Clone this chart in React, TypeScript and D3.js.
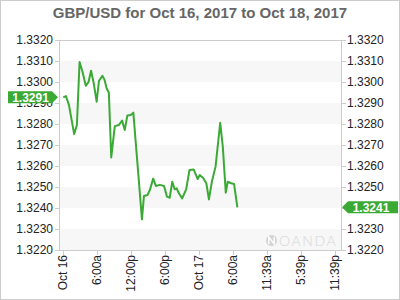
import React from "react";
import * as d3 from "d3";

// hours since Oct 16 00:00
const hours = [0, 0.47, 1.0, 1.92, 2.4, 2.87, 3.39, 3.97, 4.44, 4.9, 5.37, 5.89, 6.29, 6.89, 7.29, 7.64, 8.04, 8.46, 9.09, 9.79, 10.38, 10.84, 11.31, 11.89, 12.36, 13.88, 14.23, 14.86, 15.28, 15.86, 16.33, 17.03, 17.78, 18.3, 18.78, 19.23, 19.65, 20.0, 20.4, 20.98, 21.68, 22.27, 23.02, 23.72, 24.07, 24.65, 25.24, 25.7, 26.22, 26.87, 27.69, 28.15, 28.67, 29.02, 29.62, 30.14, 30.72];
const prices = [1.32927, 1.32933, 1.3289, 1.32752, 1.32795, 1.33095, 1.33049, 1.32982, 1.32999, 1.33054, 1.32994, 1.32906, 1.33005, 1.3303, 1.3301, 1.3297, 1.32949, 1.32641, 1.3279, 1.32795, 1.32816, 1.32771, 1.32841, 1.32843, 1.32854, 1.32346, 1.32457, 1.32462, 1.32486, 1.3254, 1.32505, 1.3251, 1.32505, 1.32454, 1.32449, 1.32525, 1.32489, 1.32494, 1.3247, 1.32446, 1.32489, 1.32581, 1.32583, 1.32538, 1.32557, 1.32544, 1.32518, 1.32441, 1.32525, 1.32597, 1.32806, 1.32692, 1.32473, 1.32525, 1.32518, 1.32514, 1.32403];
const yTicks = [1.322, 1.323, 1.324, 1.325, 1.326, 1.327, 1.328, 1.329, 1.33, 1.331, 1.332];
const xTickHours = [0, 6, 12, 18, 24, 30, 36, 42, 48];
const xTickLabels = ["Oct 16", "6:00a", "12:00p", "6:00p", "Oct 17", "6:00a", "11:39a", "5:39p", "11:39p"];
const openLabel = "1.3291";
const lastLabel = "1.3241";
const title = "GBP/USD for Oct 16, 2017 to Oct 18, 2017";

const GREEN = "#3aaa35";
const FONT = "'Liberation Sans', Arial, sans-serif";

export default function App() {
  const W = 400, H = 300;
  const left = 59, right = 342, top = 40, bottom = 250;
  const x = d3.scaleLinear().domain([0, 48]).range([63.3, 335.3]);
  const y = d3.scaleLinear().domain([1.322, 1.332]).range([bottom, top]);
  const data = hours.map((h, i) => ({ h, v: prices[i] }));
  const line = d3.line<{ h: number; v: number }>().x(d => x(d.h)).y(d => y(d.v));
  const fmt = d3.format(".4f");

  const yOpen = y(prices[0]);
  const yLast = y(prices[prices.length - 1]);

  return (
    <svg width={W} height={H} style={{ position: "absolute", left: 0, top: 0 }} fontFamily={FONT}>
      <rect x={0.5} y={0.5} width={W - 1} height={H - 1} fill="#fff" stroke="#ccc" />
      <text x={200} y={18} textAnchor="middle" fontSize={15} fontWeight="bold" fill="#666">{title}</text>

      {/* bands */}
      {yTicks.slice(0, -1).map((t, i) =>
        i % 2 === 0 ? (
          <rect key={"b" + i} x={left} width={right - left} y={y(yTicks[i + 1])} height={y(t) - y(yTicks[i + 1])} fill="#f7f7f7" />
        ) : null
      )}

      {/* watermark */}
      <g fill="#d4d4d4">
        <circle cx={271.5} cy={240.5} r={5.5} fill="#d4d4d4" />
        <path d={`M268.8,244 L268.8,237 L274.2,244 L274.2,237`} fill="none" stroke="#fff" strokeWidth={1.4} />
        <text x={279} y={245.5} fontSize={14} letterSpacing={1.6} fill="#d6d6d6" fontFamily="Lato, 'Liberation Sans', sans-serif" fontWeight={300}>OANDA</text>
      </g>

      {/* frame */}
      <rect x={left + 0.5} y={top + 0.5} width={right - left - 1} height={bottom - top} fill="none" stroke="#ccc" />

      {/* y ticks */}
      {yTicks.map((t, i) => (
        <g key={"y" + i}>
          <line x1={55} x2={left} y1={Math.round(y(t)) + 0.5} y2={Math.round(y(t)) + 0.5} stroke="#ccc" />
          <line x1={right} x2={right + 4} y1={Math.round(y(t)) + 0.5} y2={Math.round(y(t)) + 0.5} stroke="#ccc" />
          <text x={53} y={y(t)} dy="0.36em" textAnchor="end" fontSize={12} fill="#222">{fmt(t)}</text>
          <text x={347} y={y(t)} dy="0.36em" textAnchor="start" fontSize={12} fill="#222">{fmt(t)}</text>
        </g>
      ))}

      {/* x ticks */}
      {xTickHours.map((h, i) => (
        <g key={"x" + i}>
          <line x1={Math.round(x(h)) + 0.5} x2={Math.round(x(h)) + 0.5} y1={bottom} y2={bottom + 5} stroke="#ccc" />
          <text transform={`translate(${x(h)},${bottom + 5}) rotate(-90)`} dy="0.3em" textAnchor="end" fontSize={12} fill="#222">{xTickLabels[i]}</text>
        </g>
      ))}

      {/* line */}
      <path d={line(data) || ""} fill="none" stroke={GREEN} strokeWidth={2} strokeLinejoin="round" />

      {/* open tag */}
      <path d={`M8,${yOpen - 6} L52,${yOpen - 6} L58,${yOpen} L52,${yOpen + 6} L8,${yOpen + 6} Z`} fill={GREEN} />
      <text x={30.5} y={yOpen} dy="0.36em" textAnchor="middle" fontSize={12} fontWeight="bold" fill="#fff">{openLabel}</text>

      {/* last tag */}
      <path d={`M342,${yLast} L348,${yLast - 6} L398,${yLast - 6} L398,${yLast + 6} L348,${yLast + 6} Z`} fill={GREEN} />
      <text x={371} y={yLast} dy="0.36em" textAnchor="middle" fontSize={12} fontWeight="bold" fill="#fff">{lastLabel}</text>
    </svg>
  );
}
